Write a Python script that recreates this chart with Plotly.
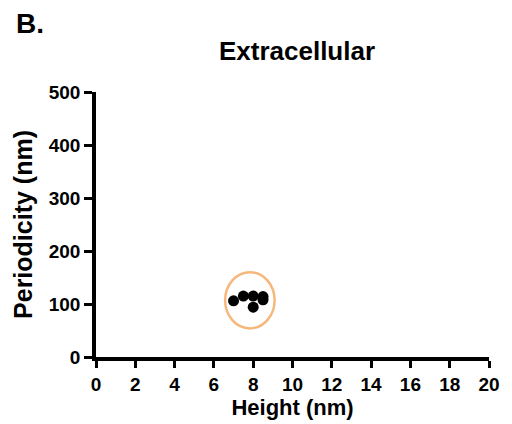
import plotly.graph_objects as go

height_nm = [7.0, 7.5, 8.0, 8.0, 8.5, 8.5]
periodicity_nm = [106, 115, 115, 94, 114, 108]

ellipse_x = [6.57, 9.09]
ellipse_y = [54, 160]

x_ticks = list(range(0, 21, 2))
y_ticks = [0, 100, 200, 300, 400, 500]

FONT = "Liberation Sans, Arial, sans-serif"

fig = go.Figure()
fig.add_trace(go.Scatter(
    x=height_nm, y=periodicity_nm, mode="markers",
    marker=dict(color="black", size=11, line=dict(width=0)),
    showlegend=False, cliponaxis=False,
))
fig.add_shape(type="circle", xref="x", yref="y",
              x0=ellipse_x[0], x1=ellipse_x[1], y0=ellipse_y[0], y1=ellipse_y[1],
              line=dict(color="#F7B77A", width=2.5))

fig.update_layout(
    width=512, height=424,
    margin=dict(l=96, r=15, t=92, b=65),
    paper_bgcolor="white", plot_bgcolor="white",
    font=dict(family=FONT, color="black"),
    title=dict(text="<b>Extracellular</b>", font=dict(size=26, family=FONT, color="black"),
               x=297/512, xref="container", xanchor="center",
               y=1-51/424, yref="container", yanchor="middle"),
    xaxis=dict(range=[0, 20], tickvals=x_ticks, ticktext=[f"<b>{v}</b>" for v in x_ticks],
               showline=True, linecolor="black", linewidth=3.5, mirror=False,
               ticks="outside", ticklen=7, tickwidth=3, tickcolor="black",
               showgrid=False, zeroline=False,
               tickfont=dict(size=19, family=FONT, color="black"),
               title=dict(text="<b>Height (nm)</b>", font=dict(size=22, family=FONT, color="black"), standoff=2)),
    yaxis=dict(range=[0, 500], tickvals=y_ticks, ticktext=[f"<b>{v}</b>" for v in y_ticks],
               showline=True, linecolor="black", linewidth=3.5, mirror=False,
               ticks="outside", ticklen=8, tickwidth=3, tickcolor="black",
               showgrid=False, zeroline=False,
               tickfont=dict(size=19, family=FONT, color="black"),
               title=dict(text="<b>Periodicity (nm)</b>", font=dict(size=25, family=FONT, color="black"), standoff=10)),
    annotations=[dict(text="<b>B.</b>", xref="paper", yref="paper",
                      x=-96/401, y=1+(92-23)/267, xanchor="left", yanchor="middle",
                      xshift=12, showarrow=False,
                      font=dict(size=28, family=FONT, color="black"))],
)

fig.write_html("out.html")
